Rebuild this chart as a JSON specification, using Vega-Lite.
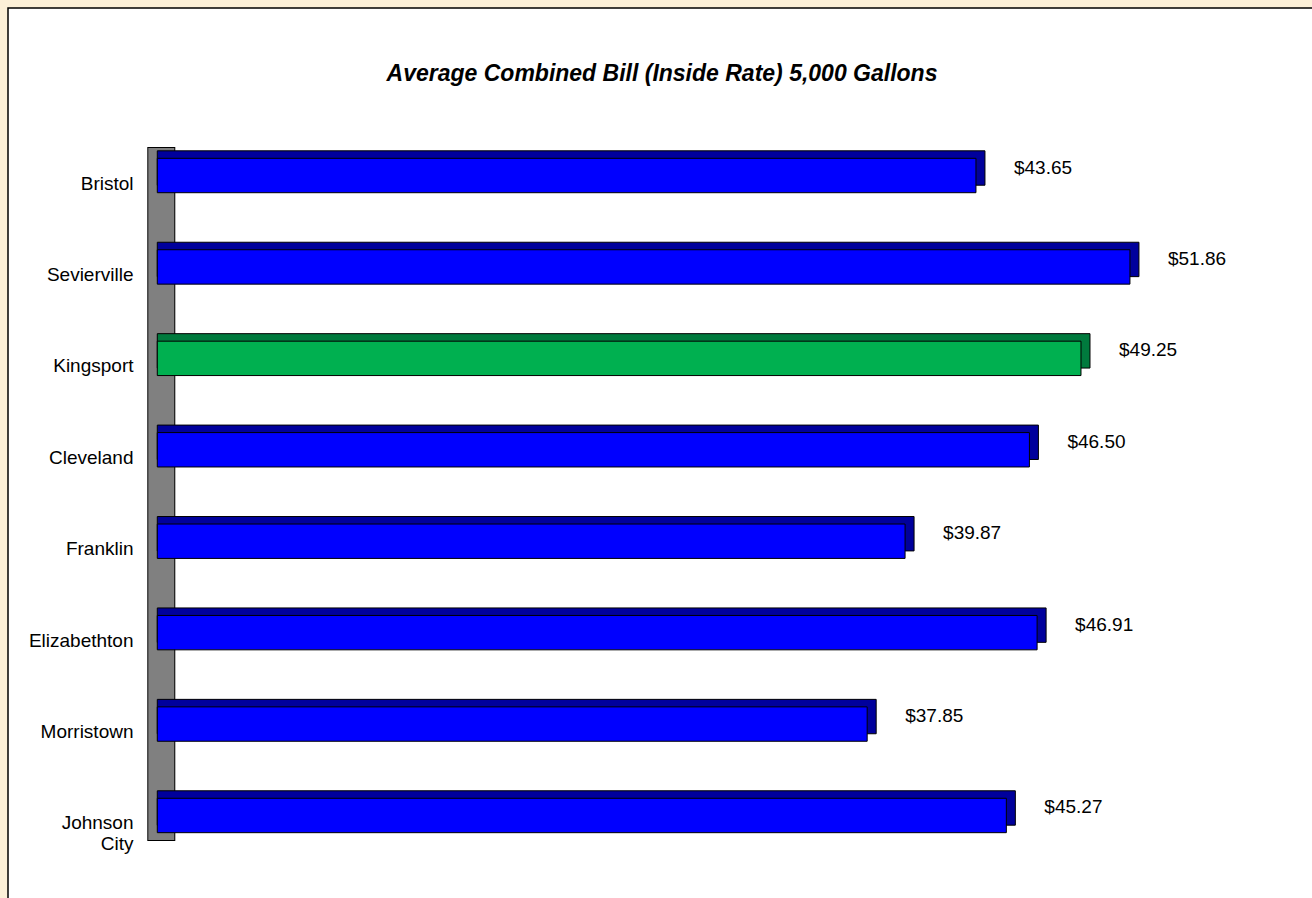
{
  "$schema": "https://vega.github.io/schema/vega-lite/v6.json",
  "autosize": {"type": "none"},
  "padding": {"left": 8, "top": 8, "right": -4, "bottom": -4},
  "width": 1308,
  "height": 894,
  "background": "#FCF0D8",
  "view": {"fill": "white", "stroke": "black", "strokeWidth": 1.5},
  "title": {
    "text": "Average Combined Bill (Inside Rate) 5,000 Gallons",
    "font": "Liberation Sans",
    "fontSize": 23,
    "fontStyle": "italic",
    "fontWeight": "bold",
    "color": "black",
    "anchor": "middle",
    "frame": "group",
    "offset": 0,
    "baseline": "alphabetic",
    "dy": 96
  },
  "data": {
    "values": [
      {"city": "Bristol", "bill": 43.65},
      {"city": "Sevierville", "bill": 51.86},
      {"city": "Kingsport", "bill": 49.25},
      {"city": "Cleveland", "bill": 46.50},
      {"city": "Franklin", "bill": 39.87},
      {"city": "Elizabethton", "bill": 46.91},
      {"city": "Morristown", "bill": 37.85},
      {"city": "Johnson City", "bill": 45.27}
    ]
  },
  "encoding": {
    "y": {
      "field": "city",
      "type": "nominal",
      "sort": null,
      "scale": {
        "domain": ["Bristol", "Sevierville", "Kingsport", "Cleveland", "Franklin", "Elizabethton", "Morristown", "Johnson City"],
        "range": [104.6, 870.4],
        "paddingInner": 0.6238,
        "paddingOuter": 0.5,
        "align": 0.5
      },
      "axis": {
        "orient": "left",
        "offset": -125,
        "title": null,
        "domain": false,
        "ticks": false,
        "tickSize": 0,
        "labelPadding": 0,
        "labelFont": "Liberation Sans",
        "labelFontSize": 19,
        "labelColor": "black",
        "labelLimit": 0,
        "labelOffset": 8,
        "labelLineHeight": 21,
        "labelExpr": "datum.label == 'Johnson City' ? ['Johnson', 'City'] : datum.label",
        "zindex": 1
      }
    }
  },
  "layer": [
    {
      "data": {"values": [{}]},
      "mark": {"type": "rule", "color": "black", "strokeWidth": 28, "strokeCap": "butt"},
      "encoding": {
        "x": {"datum": 0.213, "type": "quantitative", "scale": {"domain": [-7.96, 61.78], "nice": false, "zero": false}, "axis": null},
        "y": {"datum": "Bristol", "type": "nominal", "bandPosition": -0.33},
        "y2": {"datum": "Johnson City", "bandPosition": 1.24}
      }
    },
    {
      "data": {"values": [{}]},
      "mark": {"type": "rule", "color": "#808080", "strokeWidth": 26, "strokeCap": "butt"},
      "encoding": {
        "x": {"datum": 0.213, "type": "quantitative"},
        "y": {"datum": "Bristol", "type": "nominal", "bandPosition": -0.30},
        "y2": {"datum": "Johnson City", "bandPosition": 1.21}
      }
    },
    {
      "mark": {"type": "bar", "xOffset": 9, "yOffset": -7.5, "stroke": "black", "strokeWidth": 1},
      "encoding": {
        "x": {"field": "bill", "type": "quantitative"},
        "x2": {"datum": 0},
        "fill": {"condition": {"test": "datum.city === 'Kingsport'", "value": "#007A3D"}, "value": "#00009C"}
      }
    },
    {
      "mark": {"type": "bar", "stroke": "black", "strokeWidth": 1},
      "encoding": {
        "x": {"field": "bill", "type": "quantitative"},
        "x2": {"datum": 0},
        "fill": {"condition": {"test": "datum.city === 'Kingsport'", "value": "#00B050"}, "value": "#0000FF"}
      }
    },
    {
      "mark": {"type": "text", "align": "left", "baseline": "middle", "dx": 38, "dy": -8, "font": "Liberation Sans", "fontSize": 19, "color": "black"},
      "encoding": {
        "x": {"field": "bill", "type": "quantitative"},
        "text": {"field": "bill", "type": "quantitative", "format": "$.2f"}
      }
    }
  ]
}
